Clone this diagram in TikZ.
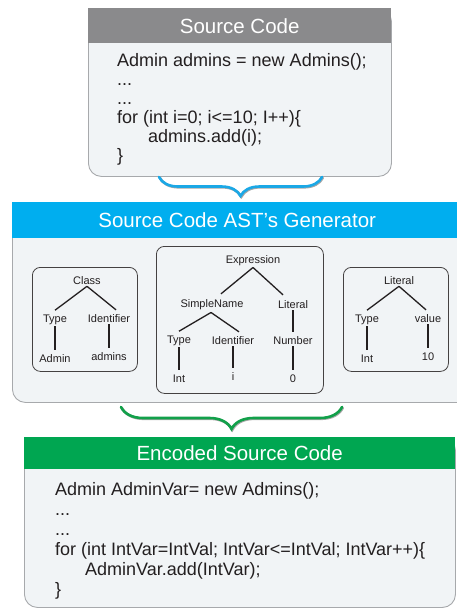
\documentclass[tikz,border=0pt]{standalone}
\usepackage{fontspec}
\setmainfont{Liberation Sans}
\usetikzlibrary{decorations.pathreplacing}
\definecolor{hgray}{HTML}{8A8A8C}
\definecolor{hblue}{HTML}{00AEEF}
\definecolor{hgreen}{HTML}{00A651}
\definecolor{bodyfill}{HTML}{F1F4F6}
\definecolor{bodyline}{HTML}{A7A9AC}
\definecolor{treeline}{HTML}{231F20}
\definecolor{bblue}{HTML}{1BA8E6}
\definecolor{bgreen}{HTML}{12A04A}
\tikzset{
  body/.style={draw=bodyline, fill=bodyfill, line width=0.9pt, rounded corners=13pt, anchor=north west, inner sep=0pt},
  hdr/.style={anchor=north west, inner sep=0pt, text=white, font=\fontsize{20.5}{22}\selectfont},
  code/.style={anchor=base west, inner sep=0pt, text=treeline, font=\fontsize{18}{20}\selectfont},
  tbox/.style={draw=treeline!85, fill=bodyfill, line width=0.8pt, rounded corners=8pt, anchor=north west, inner sep=0pt},
  tn/.style={anchor=base, inner sep=2pt, text=treeline, font=\fontsize{11}{12}\selectfont},
  te/.style={draw=treeline, line width=1.3pt},
  brc/.style={decorate, line width=2.6pt, line cap=round},
}
\begin{document}
\begin{tikzpicture}[x=1pt, y=-1pt]
\useasboundingbox (0,0) rectangle (457,608);
\clip (0,0) rectangle (457,608);
% ---------- Source Code box ----------
\node[body, minimum width=303pt, minimum height=168pt] (src) at (88,8) {};
\node[hdr, fill=hgray, minimum width=303pt, minimum height=35pt] (srch) at (88,8) {Source Code};
\node[code] (s1) at (117,66) {Admin admins = new Admins();};
\node[code] (s2) at (117,85) {...};
\node[code] (s3) at (117,104) {...};
\node[code] (s4) at (117,123) {for (int i=0; i<=10; I++)\{};
\node[code] (s5) at (148,142) {admins.add(i);};
\node[code] (s6) at (117,161) {\}};
% ---------- AST generator box ----------
\node[body, minimum width=460pt, minimum height=200pt] (ast) at (12,202) {};
\node[hdr, fill=hblue, minimum width=460pt, minimum height=36pt] (asth) at (12,202) {\hspace*{-10pt}Source Code AST’s Generator};
% inner boxes
\node[tbox, minimum width=105pt, minimum height=104pt] (tb1) at (32,267) {};
\node[tbox, minimum width=167pt, minimum height=147pt] (tb2) at (156,246) {};
\node[tbox, minimum width=105pt, minimum height=104pt] (tb3) at (343,267) {};
% left tree
\node[tn] (c1) at (87,284) {Class};
\node[tn] (c1t) at (55,322) {Type};
\node[tn] (c1i) at (109,322) {Identifier};
\node[tn] (c1a) at (55,362) {Admin};
\node[tn] (c1b) at (109,360) {admins};
\draw[te] (c1.south) -- ([yshift=2pt]c1t.north);
\draw[te] (c1.south) -- ([xshift=7pt,yshift=2pt]c1i.north);
\draw[te] (c1t.south) -- ([yshift=2pt]c1a.north);
\draw[te] (c1i.south) -- ([yshift=2pt]c1b.north);
% middle tree
\node[tn] (e) at (253,263) {Expression};
\node[tn] (sn) at (212,307) {SimpleName};
\node[tn] (lt) at (293,308) {Literal};
\node[tn] (et) at (179,343) {Type};
\node[tn] (ei) at (233,344) {Identifier};
\node[tn] (en) at (293,344) {Number};
\node[tn] (e1) at (179,382) {Int};
\node[tn] (e2) at (233,380) {i};
\node[tn] (e3) at (293,382) {0};
\draw[te] (e.south) -- ([xshift=9pt,yshift=3pt]sn.north);
\draw[te] (e.south) -- ([xshift=-10pt,yshift=3pt]lt.north);
\draw[te] ([xshift=-1pt,yshift=-1pt]sn.south) -- ([yshift=2pt]et.north);
\draw[te] ([xshift=-1pt,yshift=-1pt]sn.south) -- ([xshift=6pt,yshift=2pt]ei.north);
\draw[te] (lt.south) -- ([yshift=2pt]en.north);
\draw[te] (et.south) -- ([yshift=2pt]e1.north);
\draw[te] (ei.south) -- ([yshift=2pt]e2.north);
\draw[te] (en.south) -- ([yshift=2pt]e3.north);
% right tree
\node[tn] (r) at (399,284) {Literal};
\node[tn] (rt) at (367,322) {Type};
\node[tn] (rv) at (428,322) {value};
\node[tn] (ri) at (367,362) {Int};
\node[tn] (r10) at (428,360) {10};
\draw[te] (r.south) -- ([yshift=2pt]rt.north);
\draw[te] (r.south) -- ([xshift=-2pt,yshift=2pt]rv.north);
\draw[te] (rt.south) -- ([yshift=2pt]ri.north);
\draw[te] (rv.south) -- ([yshift=2pt]r10.north);
% ---------- Encoded Source Code box ----------
\node[body, minimum width=431pt, minimum height=170pt] (enc) at (24,437) {};
\node[hdr, fill=hgreen, minimum width=431pt, minimum height=32pt] (ench) at (24,437) {Encoded Source Code};
\node[code] (n1) at (55,495) {Admin AdminVar= new Admins();};
\node[code] (n2) at (55,515) {...};
\node[code] (n3) at (55,535) {...};
\node[code] (n4) at (55,555) {for (int IntVar=IntVal; IntVar<=IntVal; IntVar++)\{};
\node[code] (n5) at (85,575) {AdminVar.add(IntVar);};
\node[code] (n6) at (55,595) {\}};
% ---------- braces ----------
\coordinate (b1l) at (159,177);
\coordinate (b1r) at (322,177);
\coordinate (b2l) at (121,407);
\coordinate (b2r) at (342,407);
\draw[brc, draw=black!35, decoration={brace, amplitude=19pt, mirror}] ([shift={(0.8pt,-0.8pt)}]b1l) -- ([shift={(0.8pt,-0.8pt)}]b1r);
\draw[brc, draw=bblue, decoration={brace, amplitude=19pt, mirror}] (b1l) -- (b1r);
\draw[brc, draw=black!35, decoration={brace, amplitude=22pt, mirror}] ([shift={(0.8pt,-0.8pt)}]b2l) -- ([shift={(0.8pt,-0.8pt)}]b2r);
\draw[brc, draw=bgreen, decoration={brace, amplitude=22pt, mirror}] (b2l) -- (b2r);
\end{tikzpicture}
\end{document}
